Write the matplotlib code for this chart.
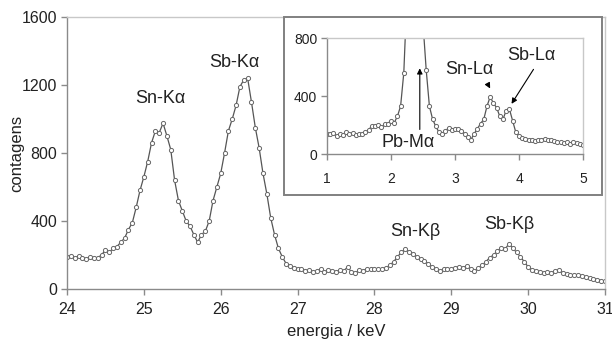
import numpy as np
import matplotlib.pyplot as plt
from matplotlib.patches import Rectangle

plt.rcParams['font.family'] = ['Liberation Sans', 'DejaVu Sans']

# main spectrum: 24.00 .. 31.00 keV, 0.05 keV steps
counts_k = [
    190, 195, 180, 195, 185, 175, 190, 180, 185, 200,
    230, 215, 240, 250, 275, 300, 350, 390, 480, 580,
    660, 750, 860, 930, 920, 975, 900, 820, 640, 520,
    460, 400, 370, 320, 275, 320, 340, 400, 520, 600,
    680, 800, 930, 1000, 1080, 1190, 1230, 1240, 1100, 950,
    830, 680, 560, 420, 320, 240, 190, 150, 135, 125,
    115, 120, 105, 110, 100, 105, 115, 100, 110, 105,
    100, 110, 105, 130, 100, 95, 110, 105, 120, 115,
    120, 115, 120, 125, 140, 160, 190, 215, 235, 220,
    205, 190, 175, 165, 150, 130, 115, 105, 115, 120,
    115, 125, 130, 125, 135, 120, 105, 125, 140, 160,
    185, 200, 225, 240, 235, 265, 240, 215, 190, 160,
    130, 110, 105, 100, 95, 100, 95, 105, 110, 95,
    90, 85, 80, 85, 75, 70, 65, 60, 55, 50,
    45,
]
energy_k = np.round(24.0 + 0.05 * np.arange(len(counts_k)), 2)

# inset spectrum: 1.00 .. 5.00 keV, 0.05 keV steps
counts_l = [
    140, 135, 145, 125, 140, 130, 150, 135, 145, 130,
    140, 135, 150, 165, 195, 190, 200, 185, 205, 210,
    230, 215, 260, 330, 560, 1100, 2200, 2600, 2300, 1600,
    900, 580, 330, 240, 190, 150, 140, 160, 180, 165,
    170, 175, 160, 140, 120, 100, 140, 175, 210, 240,
    330, 395, 350, 320, 260, 240, 300, 310, 230, 150,
    125, 110, 105, 95, 100, 90, 95, 100, 105, 95,
    100, 90, 85, 80, 75, 85, 70, 80, 75, 70,
    65,
]
energy_l = np.round(1.0 + 0.05 * np.arange(len(counts_l)), 2)

main_labels = ['Sn-Kα', 'Sb-Kα', 'Sn-Kβ', 'Sb-Kβ']
main_label_pos = [(25.22, 1118), (26.18, 1335), (28.53, 341), (29.76, 382)]

W, H = 612, 343
fig = plt.figure(figsize=(W / 100, H / 100), dpi=100)

line_kw = dict(color='#555555', lw=0.9, marker='o', ms=3.0, mfc='white',
               mec='#666666', mew=0.7)


def style_axes(ax, fs):
    for s in ['left', 'bottom']:
        ax.spines[s].set_color('#8a8a8a')
        ax.spines[s].set_linewidth(1.0)
    for s in ['top', 'right']:
        ax.spines[s].set_color('#c8c8c8')
        ax.spines[s].set_linewidth(1.0)
    ax.tick_params(direction='out', length=4, width=1.0, color='#8a8a8a',
                   labelsize=fs, labelcolor='#222222', pad=3)


ax = fig.add_axes([67 / W, 1 - 289 / H, 538 / W, 272 / H])
ax.plot(energy_k, counts_k, **line_kw)
ax.set_xlim(24, 31)
ax.set_ylim(0, 1600)
ax.set_xticks(range(24, 32))
ax.set_yticks(range(0, 1601, 400))
style_axes(ax, 11.5)
ax.tick_params(axis='x', pad=5)
ax.set_xlabel('energia / keV', fontsize=12, color='#222222')
ax.set_ylabel('contagens', fontsize=12, color='#222222')
ax.xaxis.set_label_coords(0.5, -0.128)
ax.yaxis.set_label_coords(-0.08, 0.5)
for lab, (x, y) in zip(main_labels, main_label_pos):
    ax.text(x, y, lab, ha='center', va='center', fontsize=13, color='#222222')

# inset frame
fig.patches.append(Rectangle((284 / W, 1 - 195 / H), 318 / W, 178 / H,
                             transform=fig.transFigure, fill=True,
                             facecolor='white', edgecolor='#808080', lw=1.4,
                             zorder=2))

axi = fig.add_axes([327 / W, 1 - 154 / H, 256 / W, 116 / H])
axi.set_zorder(3)
axi.plot(energy_l, counts_l, clip_on=True, **line_kw)
axi.set_xlim(1, 5)
axi.set_ylim(0, 800)
axi.set_xticks(range(1, 6))
axi.set_yticks([0, 400, 800])
style_axes(axi, 10)
axi.tick_params(axis='x', pad=9)

arrow_kw = dict(arrowstyle='-|>', color='black', lw=0.8, mutation_scale=8)
axi.annotate('', xy=(2.45, 610), xytext=(2.45, 150), arrowprops=arrow_kw)
axi.text(2.27, 76, 'Pb-Mα', ha='center', va='center', fontsize=13,
         color='#222222')
axi.annotate('', xy=(3.57, 435), xytext=(3.49, 500), arrowprops=arrow_kw)
axi.text(3.23, 586, 'Sn-Lα', ha='center', va='center', fontsize=13,
         color='#222222')
axi.annotate('', xy=(3.86, 330), xytext=(4.25, 600), arrowprops=arrow_kw)
axi.text(4.19, 676, 'Sb-Lα', ha='center', va='center', fontsize=13,
         color='#222222')

fig.savefig('out.png', dpi=100)
